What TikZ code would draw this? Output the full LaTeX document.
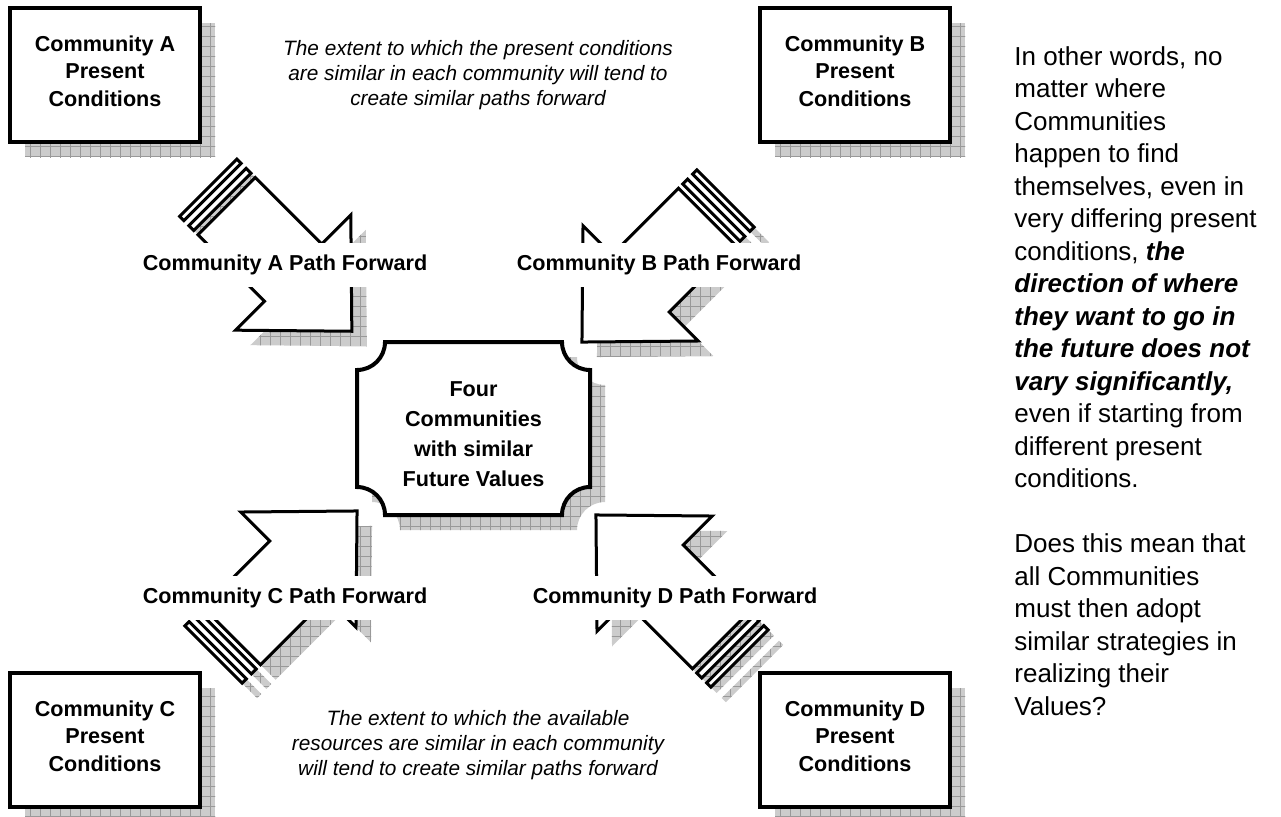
\documentclass[tikz,border=0pt]{standalone}
\usepackage{fontspec}
\setmainfont{Liberation Sans}
\usepackage{tikz}
\usetikzlibrary{patterns.meta}

% striped block arrow, tail at the origin, pointing along x
\newcommand{\stripedpath}{(0,-40.5) rectangle (6,40.5) (13,-40.5) rectangle (20,40.5)
  (26,-40.5) -- (120,-40.5) -- (120,-81.5) -- (203,0) -- (120,81.5) -- (120,40.5) -- (26,40.5) -- cycle}
\newcommand{\pathfwd}[3]{%
  \fill[grayshadow,shift={(#1+15,#2+15)},rotate=#3] \stripedpath;
  \draw[arrowline,shift={(#1,#2)},rotate=#3] \stripedpath;}

\begin{document}
\begin{tikzpicture}[line cap=round,line join=round,x=0.5pt,y=-0.5pt,
  grayshadow/.style={fill=black!20,postaction={pattern={Hatch[distance=5pt,line width=0.35pt]},pattern color=black!40}},
  arrowline/.style={draw=black,fill=white,line width=1.5pt,line join=miter},
  cbox/.style={draw=black,fill=white,line width=2pt,line join=miter,minimum width=95pt,minimum height=67pt,
    inner sep=0pt,align=center,font=\bfseries\fontsize{10.8pt}{13.75pt}\selectfont,
    preaction={fill=black!20,transform canvas={shift={(7.5pt,-7.5pt)}}},
    preaction={pattern={Hatch[distance=5pt,line width=0.35pt]},pattern color=black!40,transform canvas={shift={(7.5pt,-7.5pt)}}}},
  pathlabel/.style={fill=white,inner xsep=2pt,minimum height=22pt,font=\bfseries\fontsize{10.8pt}{13pt}\selectfont},
  note/.style={align=center,font=\itshape\fontsize{10.4pt}{12.5pt}\selectfont}]
\useasboundingbox (0,0) rectangle (1281,816);

\pathfwd{208.3}{187.7}{-45}
\pathfwd{725.5}{198.5}{-135}
\pathfwd{213.5}{654.5}{45}
\pathfwd{739.5}{658.5}{135}

\node[pathlabel] (labA) at (285,265) {Community A Path Forward};
\node[pathlabel] (labB) at (659,265) {Community B Path Forward};
\node[pathlabel] (labC) at (285,598) {Community C Path Forward};
\node[pathlabel] (labD) at (675,598) {Community D Path Forward};

\node[cbox] (boxA) at (105,75) {Community A\\Present\\Conditions\\[-9.75pt]};
\node[cbox] (boxB) at (855,75) {Community B\\Present\\Conditions\\[-9.75pt]};
\node[cbox] (boxC) at (105,740) {Community C\\Present\\Conditions\\[-9.75pt]};
\node[cbox] (boxD) at (855,740) {Community D\\Present\\Conditions\\[-9.75pt]};

\fill[grayshadow,shift={(15,15)}] (385,342) -- (562,342) .. controls (562,357.5) and (574.5,370) .. (590,370)
  -- (590,487) .. controls (574.5,487) and (562,499.5) .. (562,515)
  -- (385,515) .. controls (385,499.5) and (372.5,487) .. (357,487)
  -- (357,370) .. controls (372.5,370) and (385,357.5) .. (385,342) -- cycle;
\draw[line width=2pt,fill=white,line join=miter] (385,342) -- (562,342) .. controls (562,357.5) and (574.5,370) .. (590,370)
  -- (590,487) .. controls (574.5,487) and (562,499.5) .. (562,515)
  -- (385,515) .. controls (385,499.5) and (372.5,487) .. (357,487)
  -- (357,370) .. controls (372.5,370) and (385,357.5) .. (385,342) -- cycle;
\node[align=center,font=\bfseries\fontsize{10.8pt}{15pt}\selectfont] (core) at (473.5,434)
  {Four\\Communities\\with similar\\Future Values};

\node[note] (topnote) at (478,75) {The extent to which the present conditions\\are similar in each community will tend to\\create similar paths forward};
\node[note] (botnote) at (478,745) {The extent to which the available\\resources are similar in each community\\will tend to create similar paths forward};

\node[anchor=north west,inner sep=0pt,align=left,font=\fontsize{13pt}{16.25pt}\selectfont] (sidenote) at (1014,46)
  {In other words, no\\matter where\\Communities\\happen to find\\themselves, even in\\very differing present\\
   conditions, \textbf{\textit{the}}\\\textbf{\textit{direction of where}}\\\textbf{\textit{they want to go in}}\\
   \textbf{\textit{the future does not}}\\\textbf{\textit{vary significantly,}}\\even if starting from\\different present\\
   conditions.\\[16.25pt]Does this mean that\\all Communities\\must then adopt\\similar strategies in\\realizing their\\Values?};
\end{tikzpicture}
\end{document}
